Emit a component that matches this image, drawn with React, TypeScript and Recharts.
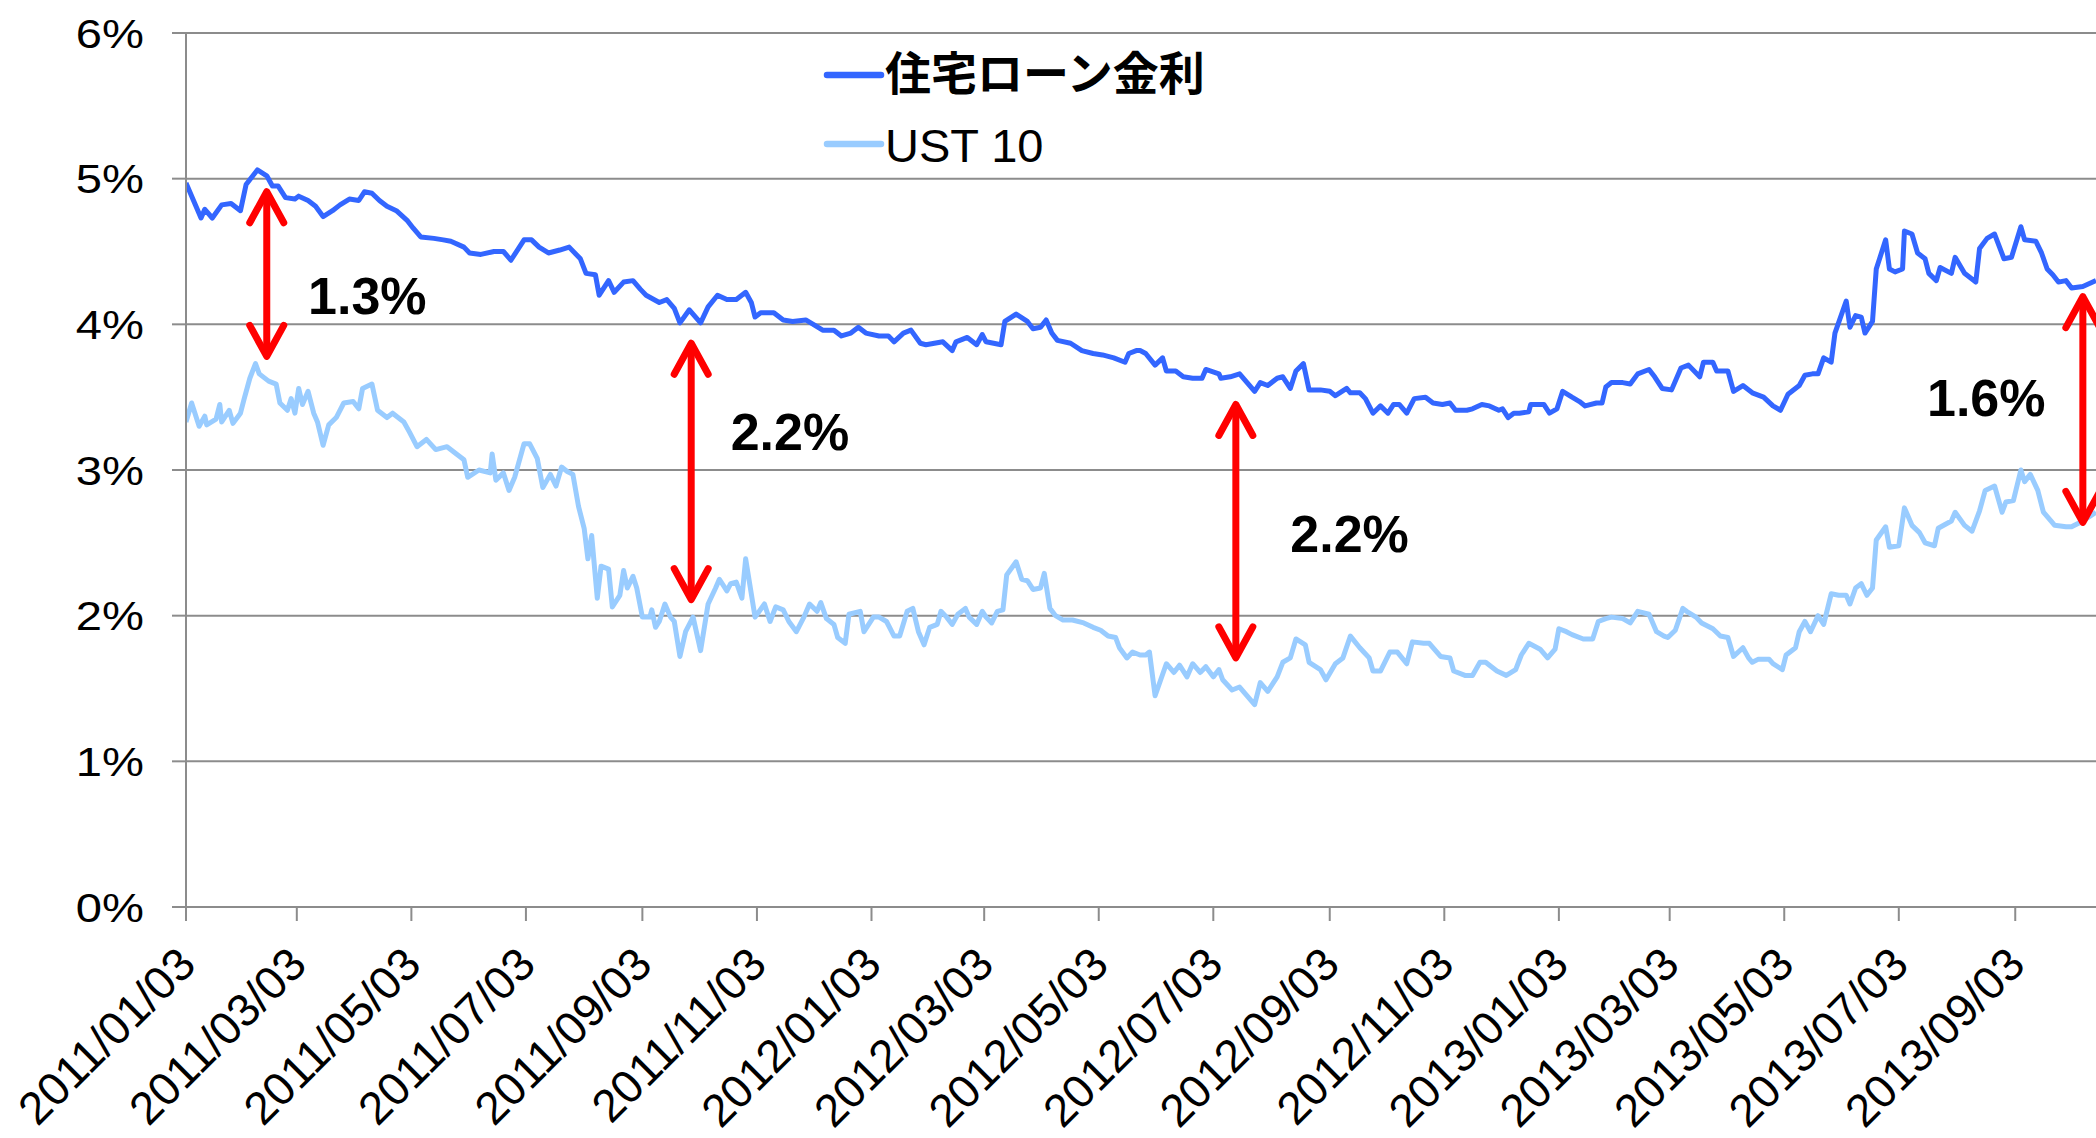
import { CartesianGrid, Line, LineChart, ReferenceDot, ReferenceLine, XAxis, YAxis } from "recharts"

const startDate = "2011/01/03"
const endDate = "2013/10/16"

const tickDates = [
  "2011/01/03", "2011/03/03", "2011/05/03", "2011/07/03", "2011/09/03", "2011/11/03",
  "2012/01/03", "2012/03/03", "2012/05/03", "2012/07/03", "2012/09/03", "2012/11/03",
  "2013/01/03", "2013/03/03", "2013/05/03", "2013/07/03", "2013/09/03",
]

const yTicks = [0, 1, 2, 3, 4, 5, 6]

// readings: days after 2011/01/03 and rate in %
const loanDay = [
  0, 4, 8, 10, 14, 19, 24, 29, 32, 38, 43, 46, 49, 53, 58, 60, 65, 69, 73, 78,
  82, 87, 92, 95, 99, 103, 107, 112, 118, 121, 125, 132, 137, 141, 148, 151, 157, 164, 169, 173,
  180, 184, 188, 193, 199, 204, 210, 213, 218, 220, 225, 228, 233, 238, 242, 245, 252, 256, 260, 263,
  268, 274, 278, 283, 288, 293, 298, 301, 303, 306, 313, 318, 323, 330, 334, 339, 345, 349, 354, 358,
  362, 369, 374, 377, 382, 386, 391, 394, 403, 408, 410, 416, 421, 424, 426, 434, 436, 442, 448, 451,
  455, 458, 461, 464, 471, 477, 483, 488, 494, 500, 502, 506, 508, 511, 516, 520, 522, 527, 531, 536,
  541, 543, 550, 551, 556, 561, 565, 569, 572, 576, 581, 584, 588, 591, 595, 598, 604, 609, 612, 618,
  620, 625, 628, 632, 636, 640, 643, 646, 650, 654, 660, 664, 669, 673, 676, 682, 685, 690, 694, 699,
  701, 704, 707, 710, 715, 716, 723, 726, 730, 733, 738, 742, 745, 751, 754, 756, 759, 765, 769, 773,
  779, 782, 786, 791, 796, 800, 806, 808, 813, 815, 821, 824, 829, 834, 840, 845, 849, 853, 859, 862,
  866, 869, 872, 876, 878, 884, 886, 889, 892, 894, 898, 900, 905, 907, 910, 914, 915, 919, 922, 926,
  928, 932, 934, 940, 942, 947, 953, 955, 959, 963, 968, 972, 977, 979, 985, 988, 991, 994, 997, 1001,
  1004, 1010, 1017,
]
const loanRate = [
  4.97, 4.85, 4.73, 4.79, 4.73, 4.82, 4.83, 4.78, 4.96, 5.06, 5.02, 4.95, 4.95, 4.87, 4.86, 4.88, 4.85, 4.81, 4.74, 4.78,
  4.82, 4.86, 4.85, 4.91, 4.9, 4.85, 4.81, 4.78, 4.71, 4.66, 4.6, 4.59, 4.58, 4.57, 4.53, 4.49, 4.48, 4.5, 4.5, 4.44,
  4.58, 4.58, 4.53, 4.49, 4.51, 4.53, 4.45, 4.35, 4.34, 4.2, 4.3, 4.22, 4.29, 4.3, 4.24, 4.2, 4.15, 4.17, 4.11, 4.01,
  4.1, 4.01, 4.12, 4.2, 4.17, 4.17, 4.22, 4.15, 4.05, 4.08, 4.08, 4.03, 4.02, 4.03, 4.0, 3.96, 3.96, 3.92, 3.94, 3.98,
  3.94, 3.92, 3.92, 3.88, 3.94, 3.96, 3.87, 3.86, 3.88, 3.82, 3.88, 3.91, 3.86, 3.93, 3.88, 3.86, 4.02, 4.07, 4.02, 3.97,
  3.98, 4.03, 3.94, 3.89, 3.87, 3.82, 3.8, 3.79, 3.77, 3.74, 3.8, 3.82, 3.82, 3.8, 3.72, 3.77, 3.68, 3.68, 3.64, 3.63,
  3.63, 3.69, 3.66, 3.63, 3.64, 3.66, 3.6, 3.54, 3.6, 3.58, 3.63, 3.64, 3.56, 3.68, 3.73, 3.55, 3.55, 3.54, 3.51, 3.56,
  3.53, 3.53, 3.49, 3.39, 3.44, 3.39, 3.45, 3.45, 3.39, 3.49, 3.5, 3.46, 3.45, 3.46, 3.41, 3.41, 3.42, 3.45, 3.44, 3.41,
  3.42, 3.36, 3.39, 3.39, 3.4, 3.45, 3.45, 3.39, 3.42, 3.54, 3.5, 3.47, 3.44, 3.46, 3.46, 3.57, 3.6, 3.6, 3.59, 3.66,
  3.69, 3.64, 3.56, 3.55, 3.7, 3.72, 3.64, 3.74, 3.74, 3.68, 3.68, 3.54, 3.58, 3.53, 3.5, 3.44, 3.41, 3.52, 3.58, 3.65,
  3.66, 3.66, 3.77, 3.74, 3.94, 4.16, 3.98, 4.06, 4.05, 3.94, 4.02, 4.38, 4.58, 4.38, 4.36, 4.38, 4.64, 4.62, 4.49, 4.45,
  4.35, 4.3, 4.39, 4.35, 4.46, 4.35, 4.29, 4.52, 4.59, 4.62, 4.45, 4.46, 4.67, 4.58, 4.57, 4.49, 4.38, 4.34, 4.29, 4.3,
  4.25, 4.26, 4.3,
]

const ustDay = [
  0, 3, 7, 10, 11, 16, 18, 19, 23, 25, 29, 31, 34, 37, 39, 44, 48, 50, 54, 56,
  58, 60, 62, 65, 68, 70, 73, 76, 80, 84, 89, 92, 94, 99, 102, 107, 110, 116, 119, 123,
  128, 133, 139, 144, 148, 150, 156, 162, 163, 165, 169, 172, 175, 180, 183, 187, 190, 194, 197, 200,
  203, 206, 209, 212, 214, 216, 219, 221, 225, 227, 231, 233, 235, 238, 240, 243, 247, 248, 250, 252,
  255, 258, 260, 263, 266, 270, 274, 278, 282, 284, 288, 290, 293, 296, 298, 303, 308, 311, 314, 318,
  321, 325, 329, 332, 336, 338, 341, 345, 347, 351, 353, 359, 361, 366, 369, 373, 377, 380, 384, 387,
  390, 393, 396, 400, 402, 405, 408, 411, 415, 417, 421, 424, 426, 429, 432, 435, 437, 442, 445, 448,
  451, 455, 457, 460, 463, 467, 472, 478, 483, 487, 491, 495, 497, 501, 504, 508, 511, 513, 516, 519,
  522, 526, 529, 533, 536, 540, 543, 547, 550, 552, 557, 561, 565, 569, 572, 576, 581, 584, 588, 591,
  596, 598, 604, 607, 612, 616, 620, 625, 630, 632, 636, 641, 645, 650, 653, 659, 662, 668, 673, 675,
  681, 685, 689, 692, 698, 703, 708, 711, 715, 721, 725, 729, 731, 735, 738, 744, 749, 752, 756, 759,
  765, 769, 773, 779, 783, 787, 789, 793, 797, 799, 804, 807, 813, 817, 821, 824, 829, 832, 834, 837,
  843, 845, 850, 852, 857, 859, 862, 865, 869, 872, 876, 880, 884, 886, 889, 892, 895, 898, 900, 905,
  907, 912, 915, 919, 923, 926, 931, 933, 940, 942, 947, 951, 955, 958, 963, 967, 969, 973, 977, 979,
  982, 986, 989, 993, 995, 1001, 1004, 1010, 1017,
]
const ustRate = [
  3.33, 3.46, 3.3, 3.37, 3.31, 3.35, 3.45, 3.33, 3.41, 3.32, 3.39, 3.49, 3.63, 3.73, 3.66, 3.61, 3.59, 3.46, 3.41, 3.49,
  3.39, 3.56, 3.45, 3.54, 3.39, 3.33, 3.17, 3.31, 3.36, 3.46, 3.47, 3.42, 3.56, 3.59, 3.41, 3.36, 3.39, 3.33, 3.26, 3.16,
  3.21, 3.14, 3.16, 3.11, 3.07, 2.95, 3.0, 2.98, 3.11, 2.93, 2.98, 2.86, 2.95, 3.18, 3.18, 3.08, 2.88, 2.97, 2.89, 3.02,
  2.99, 2.97, 2.75, 2.6, 2.39, 2.55, 2.12, 2.34, 2.32, 2.06, 2.14, 2.31, 2.19, 2.27, 2.19, 1.99, 1.99, 2.04, 1.92, 1.96,
  2.08, 1.99, 1.96, 1.72, 1.89, 1.99, 1.76, 2.08, 2.19, 2.25, 2.17, 2.22, 2.23, 2.12, 2.39, 1.99, 2.08, 1.96, 2.06, 2.04,
  1.96, 1.89, 1.99, 2.08, 2.03, 2.09, 1.98, 1.94, 1.85, 1.81, 2.01, 2.03, 1.89, 1.99, 1.99, 1.96, 1.86, 1.86, 2.03, 2.05,
  1.89, 1.8, 1.92, 1.94, 2.03, 1.99, 1.94, 2.01, 2.05, 1.99, 1.94, 2.03, 1.99, 1.95, 2.03, 2.04, 2.28, 2.37, 2.25, 2.24,
  2.18, 2.19, 2.29, 2.05, 2.0, 1.97, 1.97, 1.95, 1.92, 1.9, 1.86, 1.85, 1.78, 1.71, 1.75, 1.73, 1.73, 1.75, 1.45, 1.56,
  1.67, 1.61, 1.66, 1.58, 1.67, 1.61, 1.65, 1.58, 1.63, 1.56, 1.49, 1.51, 1.45, 1.39, 1.54, 1.48, 1.58, 1.68, 1.71, 1.84,
  1.8, 1.68, 1.63, 1.56, 1.67, 1.71, 1.86, 1.78, 1.71, 1.62, 1.62, 1.75, 1.75, 1.67, 1.82, 1.81, 1.81, 1.72, 1.71, 1.62,
  1.59, 1.59, 1.68, 1.68, 1.62, 1.59, 1.63, 1.73, 1.81, 1.77, 1.71, 1.77, 1.91, 1.89, 1.87, 1.84, 1.84, 1.96, 1.98, 1.99,
  1.98, 1.95, 2.03, 2.01, 1.89, 1.86, 1.85, 1.9, 2.05, 2.03, 1.99, 1.95, 1.91, 1.86, 1.85, 1.72, 1.78, 1.71, 1.68, 1.7,
  1.7, 1.67, 1.63, 1.73, 1.78, 1.89, 1.96, 1.89, 2.0, 1.94, 2.15, 2.14, 2.14, 2.08, 2.19, 2.22, 2.14, 2.19, 2.52, 2.61,
  2.47, 2.48, 2.74, 2.62, 2.57, 2.5, 2.48, 2.6, 2.65, 2.71, 2.62, 2.58, 2.72, 2.86, 2.89, 2.71, 2.78, 2.79, 3.0, 2.92,
  2.97, 2.86, 2.71, 2.65, 2.62, 2.61, 2.61, 2.65, 2.71,
]

const spreadDates = ["2011/02/15", "2011/09/29", "2012/07/15", "2013/10/09"]
const spreadTop = [4.91, 3.87, 3.45, 4.19]
const spreadBottom = [3.78, 2.11, 1.71, 2.64]
const spreadLabels = ["1.3%", "2.2%", "2.2%", "1.6%"]
const spreadLabelDates = ["2011/03/09", "2011/10/20", "2012/08/13", "2013/07/18"]
const spreadLabelValues = [4.07, 3.14, 2.44, 3.37]

const series = [
  { key: "loan", name: "住宅ローン金利", color: "#3366ff", bold: true, days: loanDay, rates: loanRate },
  { key: "ust", name: "UST 10", color: "#99ccff", bold: false, days: ustDay, rates: ustRate },
]

const FONT = "'Liberation Sans', Arial, 'Noto Sans CJK JP', sans-serif"
const GRID = "#8c8c8c"

const dayOf = (s: string) => {
  const [y, m, d] = s.split("/").map(Number)
  const [y0, m0, d0] = startDate.split("/").map(Number)
  return Math.round((Date.UTC(y, m - 1, d) - Date.UTC(y0, m0 - 1, d0)) / 86400000)
}

const tickDays = tickDates.map(dayOf)
const labelByDay: Record<number, string> = {}
tickDates.forEach((d) => (labelByDay[dayOf(d)] = d))

const DateTick = ({ x, y, payload }: any) => (
  <g transform={`translate(${x + 12},${y + 46})`}>
    <text transform="rotate(-45)" textAnchor="end" fontSize={46} fontFamily={FONT} fill="#000">
      {labelByDay[payload.value]}
    </text>
  </g>
)

const PercentTick = ({ x, y, payload }: any) => (
  <text
    transform={`translate(${x},${y}) scale(1.15,1)`}
    textAnchor="end"
    dy="0.36em"
    fontSize={41}
    fontFamily={FONT}
    fill="#000"
  >
    {`${payload.value}%`}
  </text>
)

const Arrow = ({ x1, y1, x2, y2 }: any) => {
  const top = Math.min(y1, y2)
  const bot = Math.max(y1, y2)
  const x = x1
  return (
    <g stroke="#ff0000" strokeWidth={7} strokeLinecap="round" strokeLinejoin="round" fill="none">
      <line x1={x} y1={top + 3} x2={x2} y2={bot - 3} />
      <polyline points={`${x - 17},${top + 31} ${x},${top} ${x + 17},${top + 31}`} />
      <polyline points={`${x - 17},${bot - 31} ${x},${bot} ${x + 17},${bot - 31}`} />
    </g>
  )
}

const labelShape = (text: string) => ({ cx, cy }: any) => (
  <text x={cx} y={cy} fontSize={52} fontWeight="bold" fontFamily={FONT} fill="#000">
    {text}
  </text>
)

export default function App() {
  return (
    <div style={{ position: "fixed", left: 0, top: 0, width: 2096, height: 1138, overflow: "hidden", background: "#fff" }}>
      <LineChart width={2096} height={1138} margin={{ top: 33, right: 0, bottom: 0, left: 0 }}>
        <CartesianGrid horizontal vertical={false} stroke={GRID} strokeWidth={2} />
        <XAxis
          dataKey="day"
          type="number"
          domain={[0, dayOf(endDate)]}
          ticks={tickDays}
          interval={0}
          height={231}
          tickSize={14}
          tickMargin={0}
          stroke={GRID}
          strokeWidth={2}
          tick={<DateTick />}
          allowDataOverflow
        />
        <YAxis
          domain={[0, 6]}
          ticks={yTicks}
          interval={0}
          width={186}
          tickSize={14}
          tickMargin={28}
          stroke={GRID}
          strokeWidth={2}
          tick={<PercentTick />}
        />
        {series.map((s) => (
          <Line
            key={s.key}
            data={s.days.map((d, i) => ({ day: d, rate: s.rates[i] }))}
            dataKey="rate"
            name={s.name}
            stroke={s.color}
            strokeWidth={5}
            dot={false}
            type="linear"
            strokeLinejoin="round"
            isAnimationActive={false}
          />
        ))}
        {spreadDates.map((d, i) => (
          <ReferenceLine
            key={`arrow-${i}`}
            segment={[
              { x: dayOf(d), y: spreadTop[i] },
              { x: dayOf(d), y: spreadBottom[i] },
            ]}
            ifOverflow="visible"
            shape={Arrow}
          />
        ))}
        {spreadLabels.map((t, i) => (
          <ReferenceDot
            key={`label-${i}`}
            x={dayOf(spreadLabelDates[i])}
            y={spreadLabelValues[i]}
            r={1}
            ifOverflow="visible"
            shape={labelShape(t)}
          />
        ))}
      </LineChart>
      <svg width={470} height={160} style={{ position: "absolute", left: 800, top: 30 }}>
        {series.map((s, i) => (
          <g key={s.key}>
            <line x1={27} y1={45 + i * 69} x2={81} y2={45 + i * 69} stroke={s.color} strokeWidth={6.5} strokeLinecap="round" />
            <text
              x={85}
              y={i === 0 ? 60 : 132}
              fontSize={s.bold ? 46 : 47}
              fontWeight={s.bold ? "bold" : "normal"}
              fontFamily={FONT}
              fill="#000"
            >
              {s.name}
            </text>
          </g>
        ))}
      </svg>
    </div>
  )
}
